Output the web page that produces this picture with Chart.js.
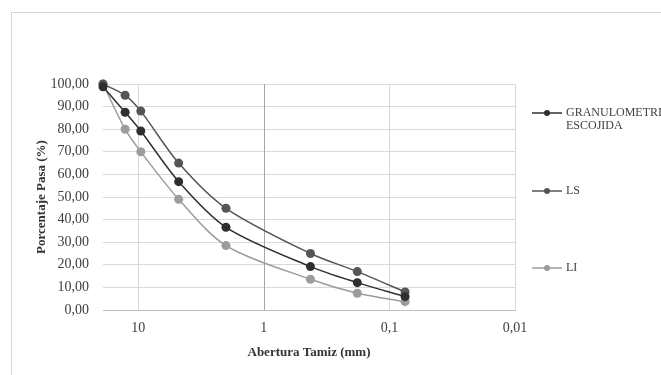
<!DOCTYPE html>
<html>
<head>
<meta charset="utf-8">
<script src="https://cdn.jsdelivr.net/npm/chart.js@4.4.1/dist/chart.umd.min.js"></script>
<style>
  body { margin: 0; background: #fff; }
  #wrap { position: relative; width: 661px; height: 375px; overflow: hidden; }
  #frame { position: absolute; left: 11px; top: 12px; width: 700px; height: 400px;
           border-top: 1px solid #d4d4d4; border-left: 1px solid #d4d4d4; }
</style>
</head>
<body>
<div id="wrap">
  <div id="frame"></div>
  <canvas id="chart"></canvas>
</div>
<script>
// sieve openings (mm) and % passing
const sieves = [19.05, 12.7, 9.53, 4.76, 2.0, 0.425, 0.18, 0.075];
const granulometria = [98.8, 87.5, 79.2, 56.8, 36.6, 19.2, 12.1, 5.9];
const limiteSuperior = [100, 95, 88, 65, 45, 25, 17, 8];
const limiteInferior = [100, 80, 70, 49, 28.5, 13.6, 7.4, 3.7];
const xTicks = [10, 1, 0.1, 0.01];

const serif = '"Liberation Serif", "Times New Roman", serif';

function points(values) {
    return sieves.map((s, i) => ({ x: s, y: values[i] }));
}

function series(label, values, color) {
    return {
        label,
        data: points(values),
        borderColor: color,
        backgroundColor: color,
        borderWidth: 1.5,
        pointRadius: 4.5,
        pointHoverRadius: 4.5,
        pointBorderWidth: 0,
        tension: 0.3,
        clip: false
    };
}

// vertical grid at each decade, placed through the x scale
const decadeGrid = {
    id: 'decadeGrid',
    beforeDatasetsDraw(chart) {
        const { ctx, chartArea, scales } = chart;
        ctx.save();
        ctx.lineWidth = 1;
        xTicks.forEach(v => {
            const raw = scales.x.getPixelForValue(v);
            if (raw < chartArea.left + 3) return; // no line on the left edge
            const px = Math.round(raw) + 0.5;
            ctx.strokeStyle = v === 1 ? '#a6a6a6' : '#d9d9d9';
            ctx.beginPath();
            ctx.moveTo(px, chartArea.top);
            ctx.lineTo(px, chartArea.bottom);
            ctx.stroke();
        });
        ctx.restore();
    }
};

// legend drawn on the right, widely spaced like the original
const sideLegend = {
    id: 'sideLegend',
    afterDraw(chart) {
        const ctx = chart.ctx;
        const rows = [113, 191, 268];
        const names = [['GRANULOMETRIA', 'ESCOJIDA'], ['LS'], ['LI']];
        chart.data.datasets.forEach((ds, i) => {
            const y = rows[i];
            ctx.save();
            ctx.strokeStyle = ds.borderColor;
            ctx.lineWidth = 1.5;
            ctx.beginPath();
            ctx.moveTo(532, y);
            ctx.lineTo(562, y);
            ctx.stroke();
            ctx.fillStyle = ds.backgroundColor;
            ctx.beginPath();
            ctx.arc(547, y, 3, 0, Math.PI * 2);
            ctx.fill();
            ctx.fillStyle = '#404040';
            ctx.font = '12px ' + serif;
            ctx.textBaseline = 'middle';
            names[i].forEach((t, k) => ctx.fillText(t, 566, y + k * 13));
            ctx.restore();
        });
    }
};

new Chart(document.getElementById('chart'), {
    type: 'line',
    data: {
        datasets: [
            series('GRANULOMETRIA ESCOJIDA', granulometria, '#2f2f2f'),
            series('LS', limiteSuperior, '#555555'),
            series('LI', limiteInferior, '#9c9c9c')
        ]
    },
    options: {
        responsive: true,
        maintainAspectRatio: false,
        animation: false,
        layout: { padding: { left: 0, top: 84, right: 146, bottom: 0 } },
        plugins: { legend: { display: false }, tooltip: { enabled: false } },
        scales: {
            x: {
                type: 'logarithmic',
                reverse: true,
                min: 0.0099999,
                max: 19.05,
                afterBuildTicks(scale) {
                    scale.ticks = xTicks.map(v => ({ value: v }));
                },
                afterFit(scale) { scale.height = 65; },
                ticks: {
                    autoSkip: false,
                    maxRotation: 0,
                    padding: 10,
                    color: '#404040',
                    font: { family: serif, size: 14 },
                    callback: v => String(v).replace('.', ',')
                },
                grid: { display: false, drawTicks: false },
                border: { display: true, color: '#bfbfbf' },
                title: {
                    display: true,
                    text: 'Abertura Tamiz (mm)',
                    color: '#333',
                    font: { family: serif, size: 13, weight: 'bold' },
                    padding: { top: 0, bottom: 15 }
                }
            },
            y: {
                min: 0,
                max: 100,
                afterFit(scale) { scale.width = 103; },
                ticks: {
                    stepSize: 10,
                    padding: 14,
                    color: '#404040',
                    font: { family: serif, size: 14 },
                    callback: v => v.toFixed(2).replace('.', ',')
                },
                grid: {
                    drawTicks: false,
                    color: ctx => (ctx.tick && ctx.tick.value === 0 ? '#bfbfbf' : '#d9d9d9')
                },
                border: { display: false },
                title: {
                    display: true,
                    text: 'Porcentaje Pasa (%)',
                    color: '#333',
                    font: { family: serif, size: 13, weight: 'bold' },
                    padding: { top: 34, bottom: 0 }
                }
            }
        }
    },
    plugins: [decadeGrid, sideLegend]
});
</script>
</body>
</html>
